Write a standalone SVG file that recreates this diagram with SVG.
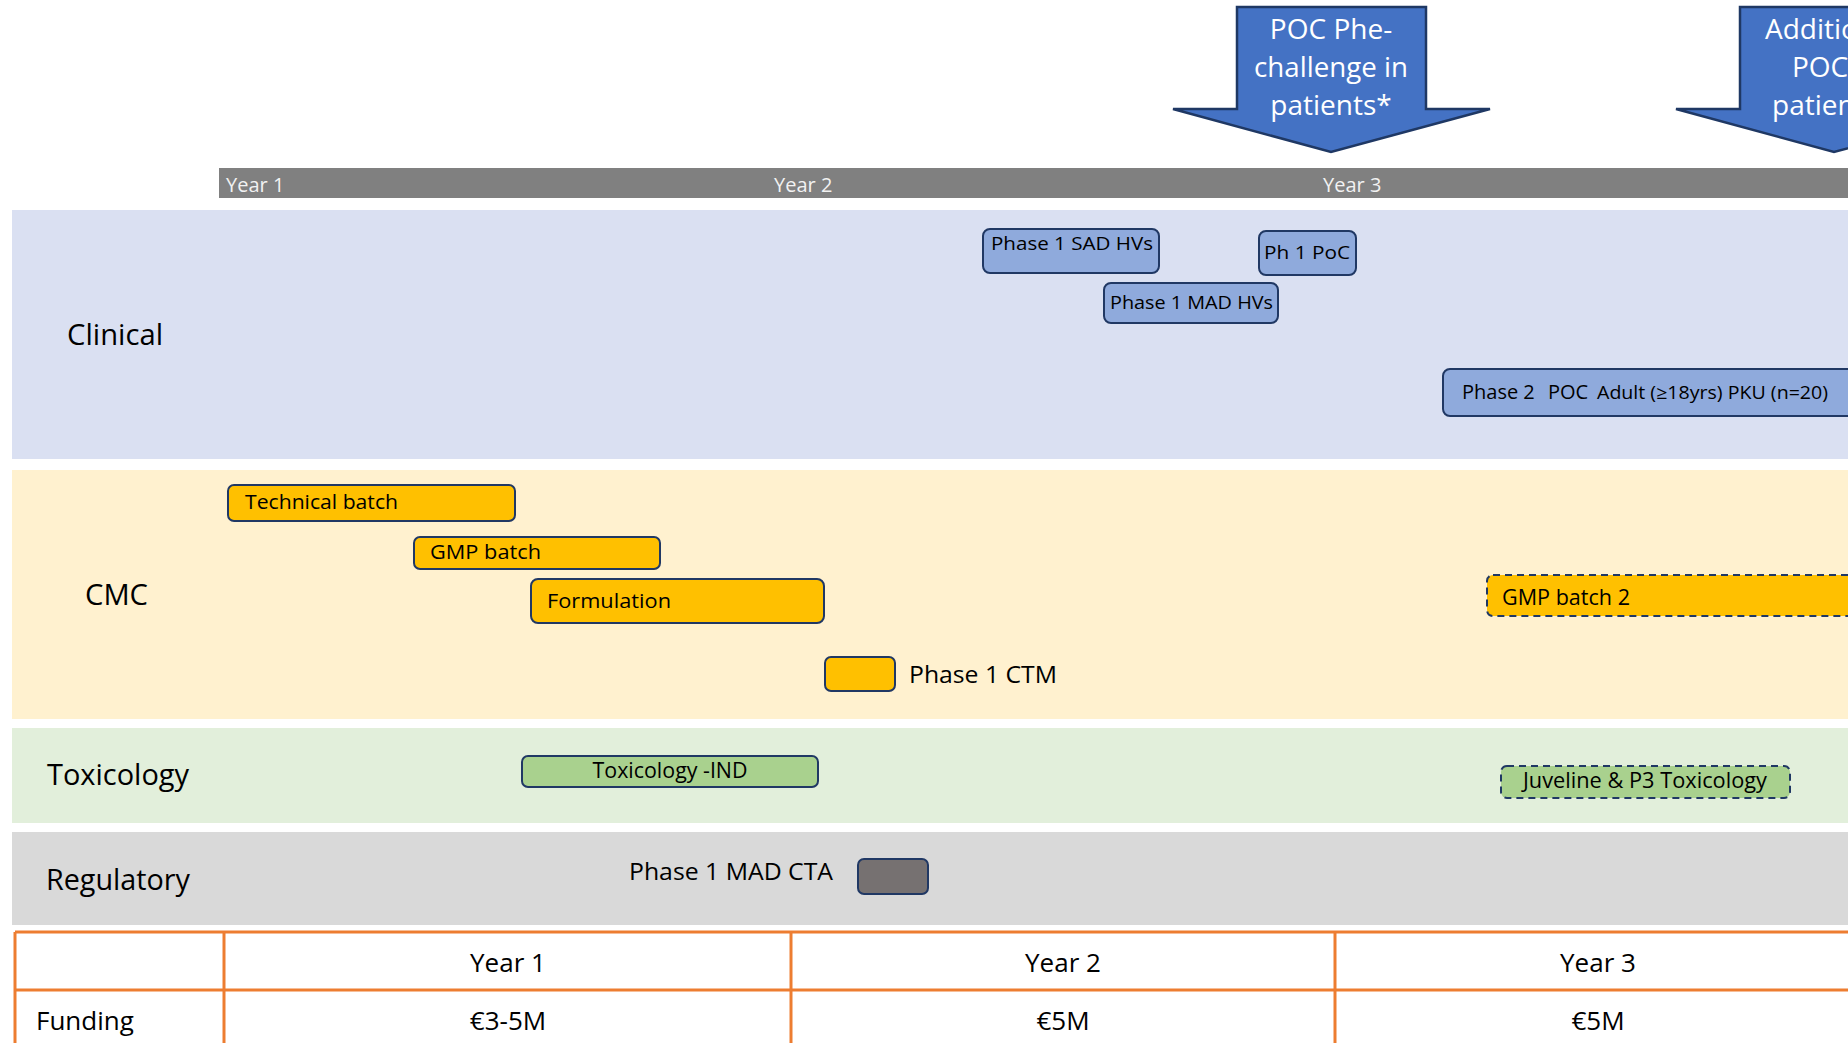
<svg xmlns="http://www.w3.org/2000/svg" width="1848" height="1043" viewBox="0 0 1848 1043">
<style>
text{font-family:"Open Sans","Noto Sans","DejaVu Sans",sans-serif;fill:#000}
.band-lbl{font-size:29px}
.yr{font-size:20px;fill:#f2f2f2}
.clin{fill:#8faadc;stroke:#203864;stroke-width:2}
.orng{fill:#ffc000;stroke:#203864;stroke-width:2}
.grn{fill:#a9d18e;stroke:#203864;stroke-width:2}
.dash{stroke-dasharray:7 5}
.arrow{fill:#4472c4;stroke:#1f3864;stroke-width:2.5;stroke-linejoin:miter}
.atxt{font-size:28px;fill:#fff;text-anchor:middle}
.tline{stroke:#ed7d31;stroke-width:3;fill:none}
.tt{font-size:26px;text-anchor:middle}
.bt{font-size:19px}
</style>
<rect width="1848" height="1043" fill="#ffffff"/>

<!-- bands -->
<g id="bands">
<rect x="12" y="210" width="1836" height="249" fill="#dae0f2"/>
<rect x="12" y="470" width="1836" height="249" fill="#fff1cf"/>
<rect x="12" y="728" width="1836" height="95" fill="#e2efdb"/>
<rect x="12" y="832" width="1836" height="93" fill="#d9d9d9"/>
</g>

<g id="labels">
<text class="band-lbl" x="67" y="345" textLength="96" lengthAdjust="spacingAndGlyphs">Clinical</text>
<text class="band-lbl" x="85" y="605" textLength="63" lengthAdjust="spacingAndGlyphs">CMC</text>
<text class="band-lbl" x="47" y="785" textLength="142" lengthAdjust="spacingAndGlyphs">Toxicology</text>
<text class="band-lbl" x="46" y="890" textLength="144" lengthAdjust="spacingAndGlyphs">Regulatory</text>
</g>

<!-- timeline bar -->
<g id="timeline">
<rect x="219" y="168" width="1629" height="30" fill="#808080"/>
<text class="yr" x="226" y="192">Year 1</text>
<text class="yr" x="774" y="192">Year 2</text>
<text class="yr" x="1323" y="192">Year 3</text>
</g>

<!-- milestone arrows -->
<g id="arrow-poc-phe">
<polygon class="arrow" points="1237,7 1426,7 1426,109 1490,109 1331,152 1173,109 1237,109"/>
<text class="atxt" x="1331" y="39">POC Phe-</text>
<text class="atxt" x="1331" y="77" textLength="154" lengthAdjust="spacingAndGlyphs">challenge in</text>
<text class="atxt" x="1331" y="115">patients*</text>
</g>
<g id="arrow-additional">
<polygon class="arrow" points="1740,7 1929,7 1929,109 1993,109 1834,152 1676,109 1740,109"/>
<text class="atxt" x="1765" y="39" style="text-anchor:start">Additional</text>
<text class="atxt" x="1792" y="77" style="text-anchor:start">POC in</text>
<text class="atxt" x="1772" y="115" style="text-anchor:start">patients</text>
</g>

<!-- clinical -->
<g id="phase1-sad">
<rect class="clin" x="983" y="229" width="176" height="44" rx="7"/>
<text class="bt" x="991" y="250" textLength="162" lengthAdjust="spacingAndGlyphs">Phase 1 SAD HVs</text>
</g>
<g id="ph1-poc">
<rect class="clin" x="1259" y="231" width="97" height="44" rx="7"/>
<text class="bt" x="1264" y="259" textLength="86" lengthAdjust="spacingAndGlyphs">Ph 1 PoC</text>
</g>
<g id="phase1-mad">
<rect class="clin" x="1104" y="283" width="174" height="40" rx="7"/>
<text class="bt" x="1110" y="309" textLength="163" lengthAdjust="spacingAndGlyphs">Phase 1 MAD HVs</text>
</g>
<g id="phase2-poc">
<rect class="clin" x="1443" y="369" width="430" height="47" rx="7"/>
<text x="1462" y="399" style="font-size:20px">Phase 2 <tspan x="1548">POC</tspan></text>
<text x="1597" y="399" style="font-size:18px" textLength="231" lengthAdjust="spacingAndGlyphs">Adult (≥18yrs) PKU (n=20)</text>
</g>

<!-- CMC -->
<g id="technical-batch">
<rect class="orng" x="228" y="485" width="287" height="36" rx="6"/>
<text x="245" y="509" style="font-size:20px" textLength="153" lengthAdjust="spacingAndGlyphs">Technical batch</text>
</g>
<g id="gmp-batch">
<rect class="orng" x="414" y="537" width="246" height="32" rx="6"/>
<text x="430" y="559" style="font-size:20px" textLength="111" lengthAdjust="spacingAndGlyphs">GMP batch</text>
</g>
<g id="formulation">
<rect class="orng" x="531" y="579" width="293" height="44" rx="7"/>
<text x="547" y="608" style="font-size:20px" textLength="124" lengthAdjust="spacingAndGlyphs">Formulation</text>
</g>
<g id="phase1-ctm">
<rect class="orng" x="825" y="657" width="70" height="34" rx="6"/>
<text x="909" y="683" style="font-size:24px" textLength="148" lengthAdjust="spacingAndGlyphs">Phase 1 CTM</text>
</g>
<g id="gmp-batch-2">
<rect class="orng dash" x="1487" y="575" width="420" height="41" rx="6"/>
<text x="1502" y="605" style="font-size:21px" textLength="128" lengthAdjust="spacingAndGlyphs">GMP batch 2</text>
</g>

<!-- Toxicology -->
<g id="tox-ind">
<rect class="grn" x="522" y="756" width="296" height="31" rx="6"/>
<text x="670" y="778" style="font-size:21px;text-anchor:middle" textLength="155" lengthAdjust="spacingAndGlyphs">Toxicology -IND</text>
</g>
<g id="juv-tox">
<rect class="grn dash" x="1501" y="766" width="289" height="32" rx="6"/>
<text x="1523" y="788" style="font-size:21px" textLength="244" lengthAdjust="spacingAndGlyphs">Juveline &amp; P3 Toxicology</text>
</g>

<!-- Regulatory -->
<g id="phase1-mad-cta">
<text x="629" y="880" style="font-size:24px" textLength="204" lengthAdjust="spacingAndGlyphs">Phase 1 MAD CTA</text>
<rect x="858" y="859" width="70" height="35" rx="6" fill="#767171" stroke="#203864" stroke-width="2"/>
</g>

<g id="connectors"></g>

<!-- funding table -->
<g id="funding-table">
<line class="tline" x1="15" y1="932" x2="1848" y2="932"/>
<line class="tline" x1="15" y1="990" x2="1848" y2="990"/>
<line class="tline" x1="15" y1="932" x2="15" y2="1043"/>
<line class="tline" x1="224" y1="932" x2="224" y2="1043"/>
<line class="tline" x1="791" y1="932" x2="791" y2="1043"/>
<line class="tline" x1="1335" y1="932" x2="1335" y2="1043"/>
<text class="tt" x="508" y="972">Year 1</text>
<text class="tt" x="1063" y="972">Year 2</text>
<text class="tt" x="1598" y="972">Year 3</text>
<text x="36" y="1030" style="font-size:26px">Funding</text>
<text class="tt" x="508" y="1030">€3-5M</text>
<text class="tt" x="1063" y="1030">€5M</text>
<text class="tt" x="1598" y="1030">€5M</text>
</g>
</svg>
